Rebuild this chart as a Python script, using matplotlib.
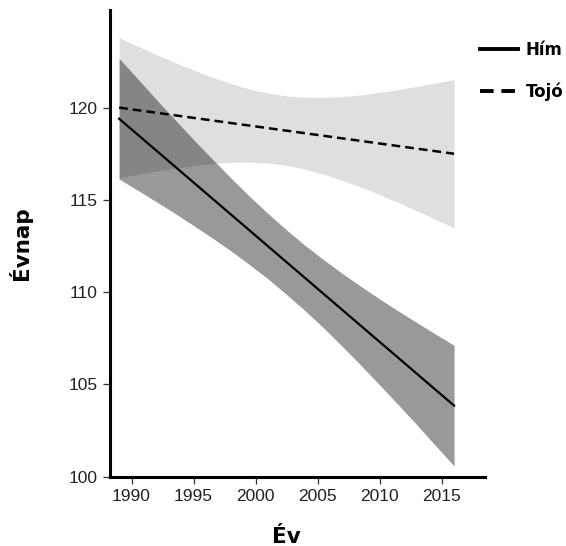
import matplotlib
matplotlib.use("Agg")
import matplotlib.pyplot as plt

# évek, amelyekben a konfidenciasávok széleit megadjuk
band_years = [1989, 1990.5, 1992, 1993.5, 1995, 1996.5, 1998, 1999.5, 2001, 2002.5,
              2004, 2005.5, 2007, 2008.5, 2010, 2011.5, 2013, 2014.5, 2016]

# hím: regressziós egyenes és 95%-os sáv
him_line_years = [1989, 2016]
him_line = [119.4, 103.85]
him_upper = [122.67, 121.56, 120.44, 119.35, 118.27, 117.22, 116.20, 115.20, 114.26, 113.37,
             112.53, 111.75, 111.01, 110.31, 109.63, 108.98, 108.35, 107.73, 107.12]
him_lower = [116.13, 115.52, 114.90, 114.27, 113.61, 112.94, 112.24, 111.50, 110.72, 109.87,
             108.99, 108.05, 107.05, 106.03, 104.97, 103.90, 102.81, 101.69, 100.58]

# tojó: regressziós egyenes és 95%-os sáv
tojo_line_years = [1989, 2016]
tojo_line = [120.0, 117.5]
tojo_upper = [123.80, 123.33, 122.88, 122.44, 122.03, 121.65, 121.31, 121.01, 120.79, 120.63,
              120.56, 120.55, 120.60, 120.69, 120.83, 120.98, 121.15, 121.33, 121.52]
tojo_lower = [116.20, 116.39, 116.56, 116.72, 116.85, 116.97, 117.03, 117.05, 116.99, 116.87,
              116.66, 116.39, 116.06, 115.69, 115.29, 114.86, 114.41, 113.95, 113.48]

x_ticks = [1990, 1995, 2000, 2005, 2010, 2015]
y_ticks = [100, 105, 110, 115, 120]

plt.rcParams['font.family'] = ['Liberation Sans', 'DejaVu Sans']

fig = plt.figure(figsize=(5.66, 5.46), dpi=100)
ax = fig.add_axes([0.194, 0.127, 0.663, 0.855])

ax.fill_between(band_years, tojo_lower, tojo_upper, color='black', alpha=0.125, linewidth=0)
ax.fill_between(band_years, him_lower, him_upper, color='black', alpha=0.4, linewidth=0)

ax.plot(him_line_years, him_line, color='black', linewidth=1.6, label='Hím')
ax.plot(tojo_line_years, tojo_line, color='black', linewidth=1.8,
        linestyle=(0, (3.5, 2)), label='Tojó')

ax.set_xlim(1988.25, 2018.5)
ax.set_ylim(100, 125.3)
ax.set_xticks(x_ticks)
ax.set_yticks(y_ticks)

for side in ['top', 'right']:
    ax.spines[side].set_visible(False)
for side in ['left', 'bottom']:
    ax.spines[side].set_linewidth(2.2)

ax.tick_params(axis='both', direction='out', length=5, width=0.9,
               labelsize=12.5, pad=4, color='#333333', labelcolor='#222222')

ax.set_xlabel('Év', family='DejaVu Sans', fontweight='bold', fontsize=15.5)
ax.xaxis.set_label_coords(0.471, -0.107)
ax.set_ylabel('Évnap', family='DejaVu Sans', fontweight='bold', fontsize=15.5, labelpad=26)

leg = ax.legend(loc='upper left', bbox_to_anchor=(0.821, 0.952), bbox_transform=fig.transFigure,
                frameon=False, handlelength=2.28, handletextpad=0.48, labelspacing=1.4,
                prop={'family': 'DejaVu Sans', 'weight': 'bold', 'size': 12})
for line in leg.get_lines():
    line.set_linewidth(2.8)

fig.savefig('out.png', dpi=100)
